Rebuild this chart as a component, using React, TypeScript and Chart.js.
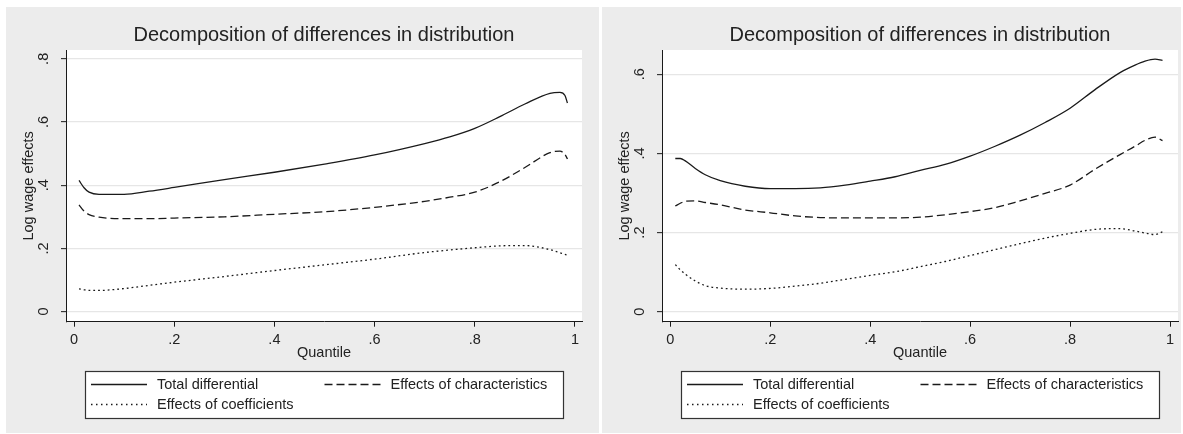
import React, { useEffect, useRef } from 'react';
import { Chart, registerables } from 'chart.js';

Chart.register(...registerables);

// ---------- text ----------
const CHART_TITLE = 'Decomposition of differences in distribution';
const X_TITLE = 'Quantile';
const Y_TITLE = 'Log wage effects';
const SERIES_NAMES = ['Total differential', 'Effects of characteristics', 'Effects of coefficients'];

// ---------- ticks ----------
const xTickValues = [0, 0.2, 0.4, 0.6, 0.8, 1];
const xTickLabels = ['0', '.2', '.4', '.6', '.8', '1'];
const leftYTickValues = [0, 0.2, 0.4, 0.6, 0.8];
const leftYTickLabels = ['0', '.2', '.4', '.6', '.8'];
const rightYTickValues = [0, 0.2, 0.4, 0.6];
const rightYTickLabels = ['0', '.2', '.4', '.6'];

// ---------- left panel data ----------
const leftQuantiles = [0.01, 0.02, 0.03, 0.05, 0.1, 0.15, 0.2, 0.3, 0.4, 0.5, 0.6, 0.7, 0.75, 0.8, 0.85, 0.9, 0.95, 0.97, 0.98, 0.985];
const leftTotal = [0.415, 0.392, 0.378, 0.371, 0.371, 0.381, 0.393, 0.418, 0.441, 0.467, 0.496, 0.532, 0.553, 0.58, 0.617, 0.657, 0.691, 0.694, 0.684, 0.66];
const leftCharacteristics = [0.338, 0.318, 0.307, 0.299, 0.294, 0.294, 0.296, 0.3, 0.308, 0.316, 0.33, 0.349, 0.362, 0.378, 0.411, 0.456, 0.503, 0.508, 0.497, 0.483];
const leftCoefficients = [0.072, 0.069, 0.067, 0.067, 0.073, 0.083, 0.093, 0.111, 0.13, 0.148, 0.166, 0.187, 0.195, 0.202, 0.208, 0.209, 0.196, 0.186, 0.181, 0.178];

// ---------- right panel data ----------
const rightQuantiles = [0.01, 0.02, 0.03, 0.05, 0.07, 0.1, 0.15, 0.2, 0.25, 0.3, 0.35, 0.4, 0.45, 0.5, 0.55, 0.6, 0.65, 0.7, 0.75, 0.8, 0.85, 0.9, 0.93, 0.95, 0.97, 0.985];
const rightTotal = [0.387, 0.387, 0.381, 0.362, 0.346, 0.331, 0.317, 0.311, 0.311, 0.313, 0.32, 0.33, 0.341, 0.357, 0.372, 0.393, 0.418, 0.446, 0.478, 0.514, 0.561, 0.604, 0.623, 0.633, 0.638, 0.635];
const rightCharacteristics = [0.267, 0.274, 0.279, 0.28, 0.276, 0.27, 0.257, 0.25, 0.242, 0.238, 0.237, 0.237, 0.237, 0.239, 0.245, 0.253, 0.263, 0.28, 0.299, 0.32, 0.36, 0.397, 0.418, 0.433, 0.441, 0.432];
const rightCoefficients = [0.119, 0.106, 0.095, 0.078, 0.066, 0.06, 0.057, 0.059, 0.065, 0.072, 0.082, 0.092, 0.101, 0.114, 0.127, 0.142, 0.157, 0.172, 0.186, 0.198, 0.208, 0.21, 0.204, 0.199, 0.195, 0.202];

// ---------- style ----------
const FONT_FAMILY = '"Liberation Sans", Arial, Helvetica, sans-serif';
const INK = '#1a1a1a';
const TEXT = '#222222';
const GRID = '#e6e6e6';
const PANEL_BG = '#ececec';
const DASHES = [[], [8, 4], [1.8, 3]];
const LEGEND_DASHES = [[], [8, 4], [1.5, 3.5]];

type PanelSpec = {
  quantiles: number[];
  series: number[][];
  yTicks: number[];
  yLabels: string[];
  xMin: number;
  xMax: number;
  yMin: number;
  yMax: number;
  width: number;
  height: number;
  padRight: number;
};

const decorPlugin = {
  id: 'stataDecor',
  beforeDraw(chart: any) {
    const { ctx, chartArea } = chart;
    ctx.save();
    ctx.fillStyle = '#ffffff';
    ctx.fillRect(chartArea.left, chartArea.top, chartArea.right - chartArea.left, chartArea.bottom - chartArea.top);
    ctx.restore();
  },
  afterDraw(chart: any) {
    const { ctx, chartArea } = chart;
    const cx = (chartArea.left + chartArea.right) / 2;
    ctx.save();
    // title
    ctx.fillStyle = TEXT;
    ctx.font = `20px ${FONT_FAMILY}`;
    ctx.textAlign = 'center';
    ctx.textBaseline = 'middle';
    ctx.fillText(CHART_TITLE, cx, 28);
    // legend box
    const W = 478;
    const H = 47;
    const L = Math.round(cx - W / 2) + 0.5;
    const T = 364.5;
    ctx.fillStyle = '#ffffff';
    ctx.fillRect(L, T, W, H);
    ctx.strokeStyle = '#333333';
    ctx.lineWidth = 1.2;
    ctx.setLineDash([]);
    ctx.strokeRect(L, T, W, H);
    const items = [
      { sx: L + 5.5, y: T + 13 },
      { sx: L + 239, y: T + 13 },
      { sx: L + 5.5, y: T + 33 },
    ];
    ctx.font = `14.5px ${FONT_FAMILY}`;
    ctx.textAlign = 'left';
    items.forEach((it, i) => {
      ctx.strokeStyle = INK;
      ctx.lineWidth = 1.3;
      ctx.setLineDash(LEGEND_DASHES[i]);
      ctx.beginPath();
      ctx.moveTo(it.sx, it.y);
      ctx.lineTo(it.sx + 56, it.y);
      ctx.stroke();
      ctx.setLineDash([]);
      ctx.fillStyle = TEXT;
      ctx.fillText(SERIES_NAMES[i], it.sx + 66, it.y);
    });
    ctx.restore();
  },
};

function makeConfig(spec: PanelSpec): any {
  const font = { family: FONT_FAMILY, size: 14.5 };
  return {
    type: 'line',
    data: {
      datasets: spec.series.map((vals, i) => ({
        label: SERIES_NAMES[i],
        data: spec.quantiles.map((q, j) => ({ x: q, y: vals[j] })),
        borderColor: INK,
        borderWidth: 1.3,
        borderDash: DASHES[i],
        pointRadius: 0,
        fill: false,
        cubicInterpolationMode: 'monotone',
      })),
    },
    options: {
      animation: false,
      responsive: false,
      devicePixelRatio: 1,
      events: [],
      layout: { padding: { left: 0, top: 43, right: spec.padRight, bottom: 0 } },
      plugins: {
        legend: { display: false },
        title: { display: false },
        tooltip: { enabled: false },
      },
      scales: {
        x: {
          type: 'linear',
          min: spec.xMin,
          max: spec.xMax,
          afterBuildTicks: (s: any) => {
            s.ticks = xTickValues.map((v) => ({ value: v }));
          },
          afterFit: (s: any) => {
            s.height = spec.height - 43 - 271.7;
          },
          ticks: {
            callback: (_v: any, i: number) => xTickLabels[i],
            padding: 5,
            font,
            color: TEXT,
            autoSkip: false,
            maxRotation: 0,
            minRotation: 0,
          },
          grid: { drawOnChartArea: false, drawTicks: true, tickLength: 5, tickColor: INK, tickWidth: 1 },
          border: { display: true, color: INK, width: 1 },
          title: {
            display: true,
            text: X_TITLE,
            font,
            color: TEXT,
            padding: { top: 0, bottom: spec.height - 43 - 271.7 - 8.7 - (345.7 - 314.7) },
          },
        },
        y: {
          type: 'linear',
          min: spec.yMin,
          max: spec.yMax,
          afterBuildTicks: (s: any) => {
            s.ticks = spec.yTicks.map((v) => ({ value: v }));
          },
          afterFit: (s: any) => {
            s.width = 60;
          },
          ticks: {
            callback: (_v: any, i: number) => spec.yLabels[i],
            padding: 11,
            font,
            color: TEXT,
            autoSkip: false,
            minRotation: 90,
            maxRotation: 90,
            crossAlign: 'center',
          },
          grid: { color: GRID, lineWidth: 1.3, drawTicks: true, tickLength: 5, tickColor: INK, tickWidth: 1 },
          border: { display: true, color: INK, width: 1 },
          title: {
            display: true,
            text: Y_TITLE,
            font,
            color: TEXT,
            padding: { top: 14.6, bottom: 0 },
          },
        },
      },
    },
    plugins: [decorPlugin],
  };
}

function Panel({ spec, left, top }: { spec: PanelSpec; left: number; top: number }) {
  const ref = useRef<HTMLCanvasElement | null>(null);
  useEffect(() => {
    if (!ref.current) return;
    const chart = new Chart(ref.current, makeConfig(spec));
    return () => chart.destroy();
  }, []);
  return (
    <div style={{ position: 'absolute', left, top, width: spec.width, height: spec.height, background: PANEL_BG }}>
      <canvas ref={ref} width={spec.width} height={spec.height} style={{ display: 'block', width: spec.width, height: spec.height }} />
    </div>
  );
}

const leftSpec: PanelSpec = {
  quantiles: leftQuantiles,
  series: [leftTotal, leftCharacteristics, leftCoefficients],
  yTicks: leftYTickValues,
  yLabels: leftYTickLabels,
  xMin: -0.016,
  xMax: 1.014,
  yMin: -0.032,
  yMax: 0.828,
  width: 593,
  height: 426,
  padRight: 17,
};

const rightSpec: PanelSpec = {
  quantiles: rightQuantiles,
  series: [rightTotal, rightCharacteristics, rightCoefficients],
  yTicks: rightYTickValues,
  yLabels: rightYTickLabels,
  xMin: -0.0166,
  xMax: 1.016,
  yMin: -0.025,
  yMax: 0.661,
  width: 579,
  height: 426,
  padRight: 3,
};

export default function App() {
  return (
    <div style={{ position: 'absolute', left: 0, top: 0, width: 1183, height: 434, background: '#ffffff', overflow: 'hidden' }}>
      <Panel spec={leftSpec} left={6} top={7} />
      <Panel spec={rightSpec} left={602} top={7} />
    </div>
  );
}
